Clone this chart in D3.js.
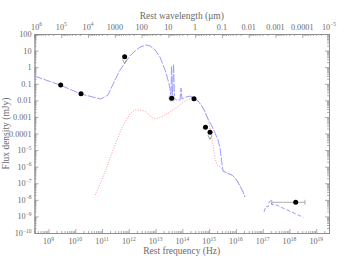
<!DOCTYPE html>
<html>
<head>
<meta charset="utf-8">
<script src="https://cdn.jsdelivr.net/npm/d3@7"></script>
<style>
  body { margin: 0; background: #fff; }
  text { font-family: "Liberation Serif", "DejaVu Serif", serif; fill: #6a6a6a; }
</style>
</head>
<body>
<div id="chart"></div>
<script>
// total model (blue), [frequency Hz, flux mJy]
const totalModel = [
  [3.0e8, 0.29], [2.7e9, 0.084], [1.64e10, 0.024], [9.1e10, 0.012], [1.67e11, 0.021],
  [3.05e11, 0.168], [4.7e11, 0.67], [7.2e11, 1.8], [1.1e12, 4.7], [1.7e12, 9.4],
  [2.6e12, 16], [4.4e12, 22], [6.2e12, 19], [9.5e12, 11], [1.46e13, 4.1],
  [2.25e13, 0.67], [2.9e13, 0.17], [3.45e13, 0.055], [3.77e13, 0.0138], [3.93e13, 1.17],
  [4.3e13, 0.0138], [4.67e13, 1.55], [5.1e13, 0.0138], [5.8e13, 0.0105], [8.2e13, 0.0105],
  [8.9e13, 0.055], [9.7e13, 0.012], [1.37e14, 0.0158], [1.93e14, 0.018], [2.73e14, 0.0138],
  [3.85e14, 0.0091], [5.4e14, 0.0045], [7.0e14, 0.002], [9.1e14, 7.5e-4], [1.28e15, 2.8e-4],
  [1.66e15, 1.07e-4], [2.15e15, 4.1e-5], [2.55e15, 1.33e-5], [2.9e15, 2.5e-6], [3.3e15, 5.4e-7],
  [4.66e15, 4.1e-7], [7.2e15, 3.1e-7], [1.01e16, 1.8e-7], [1.43e16, 6.8e-8], [1.85e16, 2.95e-8],
  [2.19e16, 1.48e-8]
];

// host / dust component (red dotted)
const hostModel = [
  [5.5e10, 1.95e-8], [8.4e10, 9e-8], [1.29e11, 4.8e-7], [1.98e11, 3.3e-6], [3.05e11, 2.0e-5],
  [4.7e11, 1.23e-4], [7.2e11, 4.9e-4], [1.1e12, 1.5e-3], [1.7e12, 2.6e-3], [2.6e12, 2.6e-3],
  [4.0e12, 2.3e-3], [6.2e12, 1.13e-3], [8.7e12, 7.5e-4], [1.23e13, 8.6e-4], [1.9e13, 1.13e-3],
  [3.45e13, 2.0e-3], [5.8e13, 3.4e-3], [9.7e13, 6.9e-3], [1.5e14, 0.0105], [2.3e14, 0.0138],
  [3.5e14, 0.0105], [5.4e14, 0.0045], [7.7e14, 1.5e-3], [9.9e14, 3.7e-4], [1.18e15, 1.07e-4],
  [1.4e15, 2.0e-5], [1.66e15, 3.3e-6], [1.97e15, 1.26e-6], [2.55e15, 9.5e-7], [3.3e15, 6.3e-7],
  [4.66e15, 4.1e-7], [7.2e15, 3.1e-7], [1.01e16, 1.8e-7], [1.43e16, 6.8e-8], [1.85e16, 2.95e-8],
  [2.19e16, 1.48e-8]
];

// X-ray part of the model (blue dashed)
const xrayModel = [
  [1.12e17, 1.9e-9], [1.33e17, 4.2e-9], [1.58e17, 3.7e-9], [1.73e17, 7.4e-9], [2.05e17, 8.8e-9],
  [2.24e17, 4.9e-9], [2.66e17, 5.6e-9], [3.3e18, 8.8e-10]
];

const detections = [
  [2.86e9, 0.084], [1.64e10, 0.025], [4.0e13, 0.0132], [2.72e14, 0.0125], [7.3e14, 2.4e-4]
];
const upperLimits = [[7.0e11, 4.3], [1.08e15, 1.17e-4]];
const xrayPoint = { nu: 1.71e18, flux: 7.1e-9, lo: 2.18e17, hi: 3.8e18 };

const freqExp = [9, 10, 11, 12, 13, 14, 15, 16, 17, 18, 19];
const waveTicks = [1e6, 1e5, 1e4, 1000, 100, 10, 1, 0.1, 0.01, 0.001, 0.0001, 1e-5];
const waveLabels = [["10", "6"], ["10", "5"], ["10", "4"], "1000", "100", "10", "1", "0.1", "0.01", "0.001", "0.0001", ["10", "\u22125"]];
const fluxTicks = [100, 10, 1, 0.1, 0.01, 0.001, 0.0001, 1e-5, 1e-6, 1e-7, 1e-8, 1e-9, 1e-10];
const fluxLabels = ["100", "10", "1", "0.1", "0.01", "0.001", "0.0001", ["10", "\u22125"], ["10", "\u22126"], ["10", "\u22127"], ["10", "\u22128"], ["10", "\u22129"], ["10", "\u221210"]];

const margin = { top: 34, right: 25, bottom: 31, left: 34.5 };
const width = 354 - margin.left - margin.right;
const height = 264 - margin.top - margin.bottom;

const svg = d3.select("#chart")
  .append("svg")
  .attr("width", 354)
  .attr("height", 264);

const g = svg.append("g")
  .attr("transform", `translate(${margin.left}, ${margin.top})`);

const x = d3.scaleLog().domain([3e8, 3e19]).range([0, width]);
const xw = d3.scaleLog().domain([1e6, 1e-5]).range([0, width]);
const y = d3.scaleLog().domain([1e-10, 100]).range([height, 0]);

function minors(lo, hi) {
  const out = [];
  for (let e = lo; e < hi; e++) {
    for (let m = 2; m <= 9; m++) out.push(m * Math.pow(10, e));
  }
  return out;
}

const grey = "#8a8a8a";

function styleAxis(sel) {
  sel.select(".domain").attr("stroke", grey).attr("stroke-width", 0.8);
  sel.selectAll("line").attr("stroke", grey).attr("stroke-width", 0.7);
}

// axes: major + minor ticks, pointing inward
const xMaj = freqExp.map(e => Math.pow(10, e));
const xMin = minors(8, 20).filter(v => v > 3e8 && v < 3e19);
const wMin = minors(-5, 6).filter(v => v > 1e-5 && v < 1e6);
const yMin = minors(-10, 2);

function addAxis(axisFn, scale, vals, size, transform) {
  g.append("g")
    .attr("transform", transform)
    .call(axisFn(scale).tickValues(vals).tickSize(size).tickFormat(""))
    .call(styleAxis);
}

addAxis(d3.axisBottom, x, xMaj, -4, `translate(0, ${height})`);
addAxis(d3.axisBottom, x, xMin, -2, `translate(0, ${height})`);
addAxis(d3.axisTop, xw, waveTicks, -4, "translate(0, 0)");
addAxis(d3.axisTop, xw, wMin, -2, "translate(0, 0)");
addAxis(d3.axisLeft, y, fluxTicks, -4, "translate(0, 0)");
addAxis(d3.axisLeft, y, yMin, -2, "translate(0, 0)");
addAxis(d3.axisRight, y, fluxTicks, -4, `translate(${width}, 0)`);
addAxis(d3.axisRight, y, yMin, -2, `translate(${width}, 0)`);

function putLabel(t, lab) {
  if (Array.isArray(lab)) {
    t.append("tspan").text(lab[0]);
    t.append("tspan").attr("dy", -3.5).attr("font-size", "5.5px").text(lab[1]);
  } else {
    t.text(lab);
  }
}

const fs = "8.2px";

freqExp.forEach(e => {
  const t = g.append("text")
    .attr("x", x(Math.pow(10, e)))
    .attr("y", height + 11)
    .attr("text-anchor", "middle")
    .attr("font-size", fs);
  putLabel(t, ["10", String(e)]);
});

waveTicks.forEach((w, i) => {
  const t = g.append("text")
    .attr("x", xw(w) + (i === 0 ? 2 : 0))
    .attr("y", -4.5)
    .attr("text-anchor", "middle")
    .attr("font-size", fs);
  putLabel(t, waveLabels[i]);
});

fluxTicks.forEach((f, i) => {
  const t = g.append("text")
    .attr("x", -3)
    .attr("y", y(f) + 3)
    .attr("text-anchor", "end")
    .attr("font-size", fs);
  putLabel(t, fluxLabels[i]);
});

g.append("text")
  .attr("x", width / 2)
  .attr("y", height + 21)
  .attr("text-anchor", "middle")
  .attr("font-size", "9.5px")
  .text("Rest frequency (Hz)");

g.append("text")
  .attr("x", width / 2)
  .attr("y", -15)
  .attr("text-anchor", "middle")
  .attr("font-size", "9.5px")
  .text("Rest wavelength (\u03bcm)");

g.append("text")
  .attr("transform", "rotate(-90)")
  .attr("x", -height / 2)
  .attr("y", -26)
  .attr("text-anchor", "middle")
  .attr("font-size", "9.5px")
  .text("Flux density (mJy)");

// model curves
const line = d3.line().x(d => x(d[0])).y(d => y(d[1]));

g.append("path")
  .datum(hostModel)
  .attr("d", line)
  .attr("fill", "none")
  .attr("stroke", "#ff9a9a")
  .attr("stroke-width", 1)
  .attr("stroke-dasharray", "1,1.5");

g.append("path")
  .datum(totalModel)
  .attr("d", line)
  .attr("fill", "none")
  .attr("stroke", "#9d9dff")
  .attr("stroke-width", 1)
  .attr("stroke-dasharray", "8,1.5");

g.append("path")
  .datum(xrayModel)
  .attr("d", line)
  .attr("fill", "none")
  .attr("stroke", "#9d9dff")
  .attr("stroke-width", 1)
  .attr("stroke-dasharray", "4,2");

// X-ray error bar
const yx = y(xrayPoint.flux);
g.append("line")
  .attr("x1", x(xrayPoint.lo)).attr("x2", x(xrayPoint.hi))
  .attr("y1", yx).attr("y2", yx)
  .attr("stroke", "#999").attr("stroke-width", 0.8);
[xrayPoint.lo, xrayPoint.hi].forEach(v => {
  g.append("line")
    .attr("x1", x(v)).attr("x2", x(v))
    .attr("y1", yx - 2.5).attr("y2", yx + 2.5)
    .attr("stroke", "#999").attr("stroke-width", 0.8);
});

// upper-limit arrows
upperLimits.forEach(d => {
  const cx = x(d[0]), cy = y(d[1]);
  g.append("path")
    .attr("d", `M${cx - 2},${cy + 3} L${cx},${cy + 7} L${cx + 2},${cy + 3}`)
    .attr("fill", "none")
    .attr("stroke", "#888")
    .attr("stroke-width", 0.8);
});

g.append("circle")
  .attr("cx", x(detections[2][0])).attr("cy", y(detections[2][1]))
  .attr("r", 3.5).attr("fill", "#ddd");

g.selectAll(".pt")
  .data(detections.concat(upperLimits, [[xrayPoint.nu, xrayPoint.flux]]))
  .enter()
  .append("circle")
  .attr("class", "pt")
  .attr("cx", d => x(d[0]))
  .attr("cy", d => y(d[1]))
  .attr("r", 2.5)
  .attr("fill", "#000");
</script>
</body>
</html>
